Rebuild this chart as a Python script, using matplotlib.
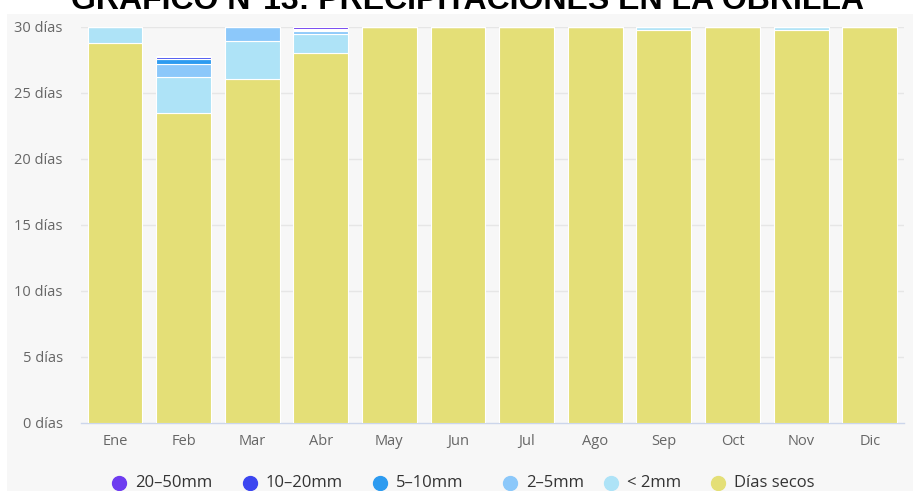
import matplotlib
matplotlib.use("Agg")
import matplotlib.pyplot as plt
import numpy as np
from matplotlib.patches import Rectangle
from matplotlib.lines import Line2D

plt.rcParams['font.family'] = ['Open Sans', 'DejaVu Sans']

months = ["Ene", "Feb", "Mar", "Abr", "May", "Jun", "Jul", "Ago", "Sep", "Oct", "Nov", "Dic"]

dias_secos = [28.8, 23.5, 26.05, 28.05, 30, 30, 30, 30, 29.8, 30, 29.75, 30]
menos_2mm  = [1.2, 2.7, 2.9, 1.4, 0, 0, 0, 0, 0.2, 0, 0.25, 0]
mm_2_5     = [0, 1.0, 1.05, 0.25, 0, 0, 0, 0, 0, 0, 0, 0]
mm_5_10    = [0, 0.35, 0, 0.1, 0, 0, 0, 0, 0, 0, 0, 0]
mm_10_20   = [0, 0.15, 0, 0.05, 0, 0, 0, 0, 0, 0, 0, 0]
mm_20_50   = [0, 0.1, 0, 0.15, 0, 0, 0, 0, 0, 0, 0, 0]

series = [
    ("Días secos", dias_secos, "#e4df77"),
    ("< 2mm", menos_2mm, "#aee3f7"),
    ("2–5mm", mm_2_5, "#8cc8fa"),
    ("5–10mm", mm_5_10, "#2d9bf0"),
    ("10–20mm", mm_10_20, "#3c46f0"),
    ("20–50mm", mm_20_50, "#6e3cf0"),
]

y_ticks = [0, 5, 10, 15, 20, 25, 30]
y_labels = [f"{v} días" for v in y_ticks]

W, H = 913, 491
fig = plt.figure(figsize=(W / 100, H / 100), dpi=100)
fig.patch.set_facecolor("white")

# light panel behind the chart
fig.add_artist(Rectangle((7 / W, 0), 1 - 7 / W, 1 - 14 / H, transform=fig.transFigure,
                         facecolor="#f7f7f7", edgecolor="none", zorder=0))

ax = fig.add_axes([80.7 / W, 68 / H, (904 - 80.7) / W, 396 / H])
ax.set_facecolor("none")

x = np.arange(len(months))
bottom = np.zeros(len(months))
for name, vals, color in series:
    vals = np.array(vals, dtype=float)
    ax.bar(x, vals, bottom=bottom, width=0.8, color=color, edgecolor="white",
           linewidth=0.8, zorder=3)
    bottom += vals

ax.set_xlim(-0.5, len(months) - 0.5)
ax.set_ylim(0, 30)
ax.set_yticks(y_ticks)
ax.set_yticklabels(y_labels)
ax.set_xticks(x)
ax.set_xticklabels(months)
ax.tick_params(axis="both", length=0, colors="#666666", labelsize=10.5)
ax.tick_params(axis="y", pad=13)
ax.tick_params(axis="x", pad=8)
for t in ax.get_yticklabels() + ax.get_xticklabels():
    t.set_color("#666666")

for v in y_ticks[1:]:
    ax.axhline(v, color="#e6e6e6", linewidth=1, zorder=1)
for s in ["top", "right", "left"]:
    ax.spines[s].set_visible(False)
ax.spines["bottom"].set_color("#ccd6eb")
ax.spines["bottom"].set_linewidth(1)

# title (top edge of the image cuts it)
fig.text(467 / W, 1 - 9 / H, "GRAFICO N°13: PRECIPITACIONES EN LA OBRILLA",
         ha="center", va="baseline", fontsize=23, fontweight="bold",
         family=["Liberation Sans", "DejaVu Sans"], color="black")

# legend
legend_items = [
    ("20–50mm", "#6e3cf0", 119),
    ("10–20mm", "#3c46f0", 250),
    ("5–10mm", "#2d9bf0", 380),
    ("2–5mm", "#8cc8fa", 510),
    ("< 2mm", "#aee3f7", 611),
    ("Días secos", "#e4df77", 718),
]
ly = 1 - 483 / H
for label, color, px in legend_items:
    fig.add_artist(Line2D([px / W], [ly], marker="o", markersize=10, color=color,
                          linestyle="none", transform=fig.transFigure))
    fig.text((px + 16) / W, ly, label, ha="left", va="center", fontsize=12,
             color="#333333")

fig.savefig("out.png", dpi=100, facecolor=fig.get_facecolor())
